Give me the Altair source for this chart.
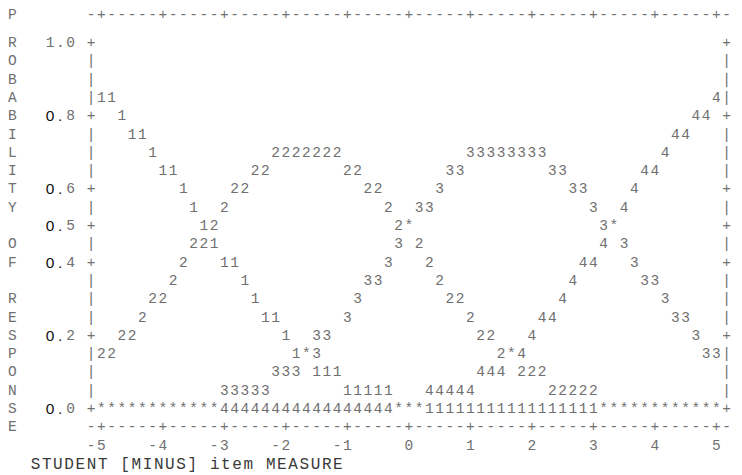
import altair as alt
import pandas as pd

# ---- data (Winsteps-style ASCII probability curves) ----
side_letters = "PROBABILITY OF RESPONSE"          # one letter per text row, rows 0..22
y_tick_rows = [1, 5, 9, 11, 13, 17, 21]
y_tick_text = ["1.0", "0.8", "0.6", "0.5", "0.4", "0.2", "0.0"]
x_tick_values = [-5, -4, -3, -2, -1, 0, 1, 2, 3, 4, 5]
axis_line = "-" + "+-----" * 10 + "+-"
title_text = "STUDENT [MINUS] item MEASURE"

# ASCII plot body (text rows 1..21), characters from column 8 to column 70
plot_rows = [
    "+" + " " * 61 + "+",
    "|" + " " * 61 + "|",
    "|" + " " * 61 + "|",
    "|11" + " " * 58 + "4|",
    "+  1" + " " * 55 + "44 +",
    "|   11" + " " * 51 + "44   |",
    "|     1" + " " * 11 + "2222222" + " " * 12 + "33333333" + " " * 11 + "4     |",
    "|      11" + " " * 7 + "22" + " " * 7 + "22" + " " * 8 + "33" + " " * 8 + "33" + " " * 7 + "44      |",
    "+" + " " * 8 + "1" + " " * 4 + "22" + " " * 11 + "22" + " " * 5 + "3" + " " * 12 + "33" + " " * 4 + "4" + " " * 8 + "+",
    "|" + " " * 9 + "1" + " " * 2 + "2" + " " * 15 + "2" + " " * 2 + "33" + " " * 15 + "3" + " " * 2 + "4" + " " * 9 + "|",
    "+" + " " * 10 + "12" + " " * 17 + "2*" + " " * 18 + "3*" + " " * 10 + "+",
    "|" + " " * 9 + "221" + " " * 17 + "3 2" + " " * 17 + "4 3" + " " * 9 + "|",
    "+" + " " * 8 + "2" + " " * 3 + "11" + " " * 14 + "3" + " " * 3 + "2" + " " * 14 + "44" + " " * 3 + "3" + " " * 8 + "+",
    "|" + " " * 7 + "2" + " " * 6 + "1" + " " * 11 + "33" + " " * 5 + "2" + " " * 12 + "4" + " " * 6 + "33" + " " * 6 + "|",
    "|" + " " * 5 + "22" + " " * 8 + "1" + " " * 9 + "3" + " " * 8 + "22" + " " * 9 + "4" + " " * 9 + "3" + " " * 5 + "|",
    "|" + " " * 4 + "2" + " " * 11 + "11" + " " * 6 + "3" + " " * 11 + "2" + " " * 6 + "44" + " " * 11 + "33" + " " * 3 + "|",
    "+" + " " * 2 + "22" + " " * 14 + "1" + " " * 2 + "33" + " " * 14 + "22" + " " * 3 + "4" + " " * 15 + "3" + " " * 2 + "+",
    "|22" + " " * 17 + "1*3" + " " * 17 + "2*4" + " " * 17 + "33|",
    "|" + " " * 17 + "333 111" + " " * 13 + "444 222" + " " * 17 + "|",
    "|" + " " * 12 + "33333" + " " * 7 + "11111" + " " * 3 + "44444" + " " * 7 + "22222" + " " * 12 + "|",
    "+" + "*" * 12 + "4" * 17 + "***" + "1" * 17 + "*" * 12 + "+",
]

# ---- build one record per visible character on the text grid ----
records = []


def add(row, col, ch, kind="plain"):
    if ch != " ":
        records.append({"row": row, "col": col, "ch": ch, "kind": kind})


for r, ch in enumerate(side_letters):
    add(r, 0, ch, "sidetop" if r == 0 else "side")
for j, ch in enumerate(axis_line):
    add(0, 8 + j, ch, "top")
    add(22, 8 + j, ch)
for r, line in enumerate(plot_rows, start=1):
    for j, ch in enumerate(line):
        add(r, 8 + j, ch)
for r, lab in zip(y_tick_rows, y_tick_text):
    for k, ch in enumerate(lab):
        add(r, 4 + k, ch, "dark" if (lab.startswith("0.") and k < 2) else "plain")
for v in x_tick_values:
    lab = str(v)
    end = 39 + 6 * v
    for k, ch in enumerate(lab):
        add(23, end - len(lab) + 1 + k, ch)

chars = pd.DataFrame(records)
title_df = pd.DataFrame(
    [{"k": k, "ch": ch, "row": 24} for k, ch in enumerate(title_text) if ch != " "]
)

xs = alt.Scale(domain=[-0.0976, 70.73], nice=False, zero=False)
ys = alt.Scale(domain=[-0.9126, 24.55], nice=False, zero=False, reverse=True)
X = alt.X("col:Q", scale=xs, axis=None)
Y = alt.Y("row:Q", scale=ys, axis=None)

base = alt.Chart(chars)
GRAY = "#707070"

plain = base.transform_filter("datum.kind == 'plain'").mark_text(
    font="Liberation Mono", fontSize=14.5, color=GRAY, align="center", baseline="middle"
).encode(x=X, y=Y, text="ch:N")

top = base.transform_filter("datum.kind == 'top'").mark_text(
    font="Liberation Mono", fontSize=14.5, color=GRAY, align="center", baseline="middle", dy=-10
).encode(x=X, y=Y, text="ch:N")

side = base.transform_filter("datum.kind == 'side'").mark_text(
    font="Liberation Mono", fontSize=14.5, color=GRAY, align="left", baseline="middle", dx=-1
).encode(x=X, y=Y, text="ch:N")

sidetop = base.transform_filter("datum.kind == 'sidetop'").mark_text(
    font="Liberation Mono", fontSize=14.5, color=GRAY, align="left", baseline="middle", dx=-1, dy=-10
).encode(x=X, y=Y, text="ch:N")

dark = base.transform_filter("datum.kind == 'dark'").mark_text(
    font="Liberation Sans", fontSize=15.5, color="#111111", align="center", baseline="middle"
).encode(x=X, y=Y, text="ch:N")

title = alt.Chart(title_df).mark_text(
    font="Liberation Mono", fontSize=16, color="#3a3a3a", align="center", baseline="middle"
).encode(
    x=alt.X("k:Q", scale=alt.Scale(domain=[-2.455, 62.37], nice=False, zero=False), axis=None),
    y=Y,
    text="ch:N",
)

chart = (
    alt.layer(plain, top, side, sidetop, dark, title)
    .resolve_scale(x="independent")
    .properties(width=726, height=466, padding=0, autosize=alt.AutoSizeParams(type="none"),
                background="white")
    .configure_view(stroke=None)
)

chart.save("out.html", embed_options={"renderer": "svg", "actions": False})
